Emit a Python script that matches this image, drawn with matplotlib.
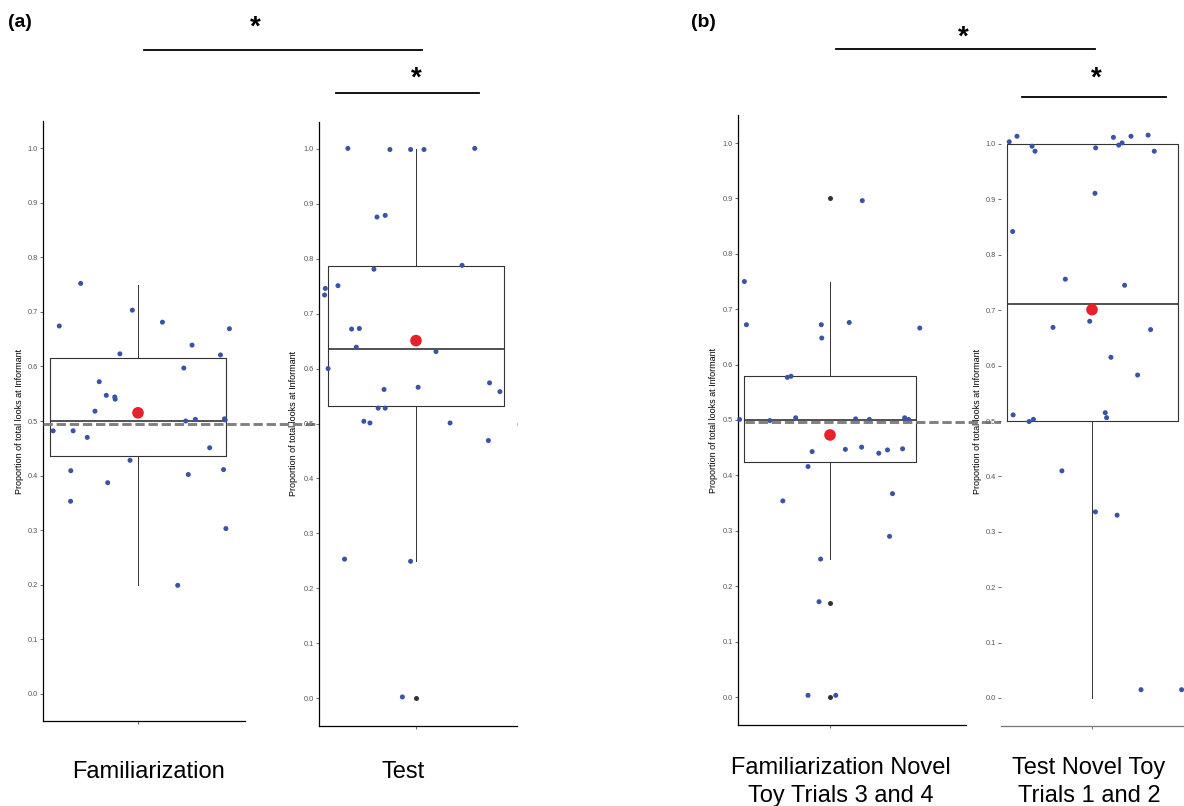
import matplotlib
matplotlib.use("Agg")
import matplotlib.pyplot as plt
from matplotlib.lines import Line2D

plt.rcParams['font.family'] = ['Liberation Sans', 'DejaVu Sans']

W, H = 1184, 806

# jitter offsets from the category centre and proportions
fam_a_dx = [-0.335, -0.244, -0.024, 0.104, 0.389, 0.230, 0.351, -0.077, 0.195, -0.165,
            -0.135, -0.099, -0.097, -0.183, 0.203, 0.244, 0.368, 0.371, -0.361, -0.276,
            -0.216, 0.305, -0.034, -0.286, 0.214, 0.364, -0.129, -0.287, 0.374, 0.169]
fam_a_y = [0.674, 0.752, 0.703, 0.681, 0.669, 0.639, 0.621, 0.623, 0.597, 0.572,
           0.547, 0.544, 0.540, 0.518, 0.500, 0.503, 0.504, 0.502, 0.482, 0.482,
           0.470, 0.451, 0.428, 0.409, 0.402, 0.411, 0.387, 0.353, 0.303, 0.199]

test_a_dx = [-0.290, -0.111, -0.023, 0.034, 0.250, -0.166, -0.131, 0.196, -0.179, -0.386,
             -0.389, -0.332, -0.274, -0.241, -0.254, 0.085, -0.374, 0.313, 0.357, 0.009,
             -0.136, -0.161, -0.131, -0.222, -0.196, 0.145, 0.308, -0.304, -0.023, -0.058]
test_a_y = [1.001, 0.999, 0.999, 0.999, 1.001, 0.876, 0.879, 0.788, 0.781, 0.746,
            0.734, 0.751, 0.672, 0.673, 0.639, 0.631, 0.600, 0.574, 0.558, 0.566,
            0.562, 0.528, 0.528, 0.504, 0.501, 0.501, 0.469, 0.253, 0.249, 0.002]

fam_b_dx = [-0.374, -0.365, -0.038, -0.036, 0.084, 0.141, 0.392, -0.186, -0.170, -0.395,
            -0.263, -0.150, 0.112, 0.172, 0.326, 0.343, 0.067, 0.138, 0.213, 0.251,
            0.317, -0.078, -0.096, -0.206, 0.273, 0.260, -0.041, -0.048, -0.096, 0.025]
fam_b_y = [0.750, 0.672, 0.672, 0.648, 0.676, 0.896, 0.666, 0.577, 0.579, 0.501,
           0.499, 0.504, 0.502, 0.501, 0.504, 0.501, 0.447, 0.451, 0.440, 0.446,
           0.448, 0.443, 0.416, 0.354, 0.367, 0.290, 0.249, 0.172, 0.003, 0.003]

test_b_dx = [-0.363, -0.329, -0.263, -0.250, 0.016, 0.094, 0.117, 0.132, 0.171, 0.246,
             0.273, 0.013, -0.348, -0.117, 0.143, -0.010, -0.171, 0.257, 0.083, 0.200,
             -0.346, -0.276, -0.257, 0.058, 0.064, -0.132, 0.015, 0.110, 0.215, 0.393]
test_b_y = [1.004, 1.014, 0.996, 0.987, 0.993, 1.012, 0.998, 1.002, 1.014, 1.016,
            0.987, 0.911, 0.842, 0.756, 0.745, 0.680, 0.669, 0.665, 0.615, 0.583,
            0.511, 0.499, 0.503, 0.515, 0.506, 0.410, 0.336, 0.330, 0.015, 0.015]

# box statistics: q1, median, q3, lower whisker, upper whisker, mean, outliers
box_q1 = [0.436, 0.531, 0.425, 0.500]
box_med = [0.500, 0.635, 0.500, 0.711]
box_q3 = [0.615, 0.787, 0.579, 1.000]
whisk_lo = [0.200, 0.250, 0.250, 0.000]
whisk_hi = [0.750, 1.000, 0.750, 1.000]
means = [0.515, 0.651, 0.473, 0.701]
outliers = [[], [0.0], [0.900, 0.170, 0.0], []]

ylab = "Proportion of total looks at Informant"
yticks = [i / 10 for i in range(11)]
ref_a, ref_b = 0.494, 0.496

BLUE = '#3a53a4'
RED = '#e8202a'
DARK = '#333333'

fig = plt.figure(figsize=(W / 100, H / 100), dpi=100)


def px_axes(left, top, right, bottom):
    return fig.add_axes([left / W, 1 - bottom / H, (right - left) / W, (bottom - top) / H])


# pixel layout: left, top, right, bottom, centre x, px per unit, ylabel x
layout = [
    (43, 120.7, 245, 721.3, 138, 235, 20),
    (319, 121.5, 517, 725.5, 416, 235, 293),
    (738, 115.3, 966, 724.7, 830, 229, 714),
    (1001, 116.3, 1184, 725.7, 1092, 228, 978),
]
jit_dx = [fam_a_dx, test_a_dx, fam_b_dx, test_b_dx]
jit_y = [fam_a_y, test_a_y, fam_b_y, test_b_y]

axes = []
for i, (l, t, r, b, cx, ppu, lx) in enumerate(layout):
    ax = px_axes(l, t, r, b)
    axes.append(ax)
    ax.set_xlim(1 + (l - cx) / ppu, 1 + (r - cx) / ppu)
    ax.set_ylim(-0.05, 1.05)

    st = dict(q1=box_q1[i], med=box_med[i], q3=box_q3[i],
              whislo=whisk_lo[i], whishi=whisk_hi[i], fliers=outliers[i])
    ax.bxp([st], positions=[1], widths=0.75, showcaps=False, showfliers=True,
           boxprops=dict(color=DARK, lw=0.8),
           whiskerprops=dict(color=DARK, lw=0.7),
           medianprops=dict(color=DARK, lw=1.2),
           flierprops=dict(marker='o', markersize=3.6, markerfacecolor=DARK,
                           markeredgecolor='none'),
           zorder=2)

    ax.scatter([1 + d for d in jit_dx[i]], jit_y[i], s=13, color=BLUE,
               edgecolors='none', zorder=3, clip_on=False)
    ax.scatter([1], [means[i]], s=70, color=RED, edgecolors='none', zorder=4)

    ax.set_xticks([1])
    ax.set_xticklabels([''])
    ax.set_yticks(yticks)
    ax.set_yticklabels([f"{v:.1f}" for v in yticks])
    ax.tick_params(axis='both', length=2.2, width=0.6, color='#555555',
                   labelsize=5.3, labelcolor='#555555', pad=1.5)
    for s in ('top', 'right'):
        ax.spines[s].set_visible(False)
    for s in ('left', 'bottom'):
        ax.spines[s].set_linewidth(0.9)
        ax.spines[s].set_color('black')
    ax.set_ylabel(ylab, fontsize=6.5, va='center', ha='center')
    ax.yaxis.set_label_coords((lx - l) / (r - l), 0.5)

axes[3].spines['left'].set_visible(False)
axes[3].spines['bottom'].set_color('#777777')

# chance-level reference lines across each pair of panels
l, t, r, b = layout[0][:4]
axes[0].axhline(ref_a, xmin=0, xmax=(517 - l) / (r - l), color='#808080', lw=2.1,
                dashes=(3.2, 1.3), clip_on=False, zorder=5)
l, t, r, b = layout[2][:4]
axes[2].axhline(ref_b, xmin=(745 - l) / (r - l), xmax=(1184 - l) / (r - l), color='#808080',
                lw=2.1, dashes=(3.2, 1.3), clip_on=False, zorder=5)

# category labels
fs = 17
fig.text(148 / W, 1 - 778 / H, "Familiarization", fontsize=fs, ha='center', va='baseline')
fig.text(403 / W, 1 - 778 / H, "Test", fontsize=fs, ha='center', va='baseline')
fig.text(841 / W, 1 - 802 / H, "Familiarization Novel\nToy Trials 3 and 4", fontsize=fs,
         ha='center', va='baseline', linespacing=1.33, multialignment='center')
fig.text(1089 / W, 1 - 802 / H, "Test Novel Toy\nTrials 1 and 2", fontsize=fs,
         ha='center', va='baseline', linespacing=1.33, multialignment='center')

# panel letters
fig.text(8 / W, 1 - 27 / H, "(a)", fontsize=14, fontweight='bold', ha='left', va='baseline')
fig.text(691 / W, 1 - 27 / H, "(b)", fontsize=14, fontweight='bold', ha='left', va='baseline')

# significance brackets
bars = [((144, 422), 50, 255, 35), ((336, 479), 93, 416, 86),
        ((836, 1095), 49, 963, 45), ((1022, 1166), 97, 1096, 86)]
for (x0, x1), y, sx, sy in bars:
    fig.add_artist(Line2D([x0 / W, x1 / W], [1 - y / H, 1 - y / H], color='black', lw=1.3))
    fig.text(sx / W, 1 - sy / H, "*", fontsize=20, fontweight='bold', ha='center',
             va='baseline')

fig.savefig("out.png", dpi=100)
